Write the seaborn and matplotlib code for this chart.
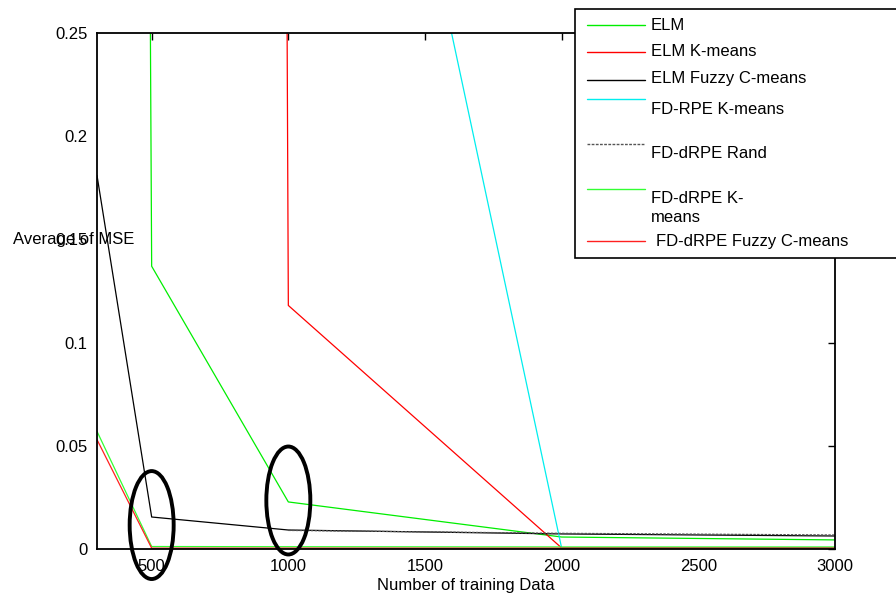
import numpy as np
import pandas as pd
import matplotlib
matplotlib.use("Agg")
import matplotlib.pyplot as plt
import seaborn as sns
from matplotlib.patches import Ellipse, Rectangle
from matplotlib.lines import Line2D

# data (first points of some series go far above the y-limit)
n_train = [300, 500, 1000, 2000, 3000]
elm = [5.0, 0.137, 0.0228, 0.0058, 0.0044]
elm_kmeans = [20.0, 15.0, 0.118, 0.0005, 0.0005]
elm_fcm = [0.181, 0.0155, 0.0092, 0.0073, 0.0063]
fd_rpe_kmeans = [2.5, 1.5, 0.62, 0.0004, 0.0004]
fd_drpe_rand = [np.nan, np.nan, 0.0090, 0.0076, 0.0068]
fd_drpe_kmeans = [0.057, 0.0012, 0.0011, 0.0010, 0.0010]
fd_drpe_fcm = [0.053, 0.0004, 0.0004, 0.0004, 0.0004]

methods = ["ELM", "ELM K-means", "ELM Fuzzy C-means", "FD-RPE K-means",
           "FD-dRPE Rand", "FD-dRPE K-means", "FD-dRPE Fuzzy C-means"]
series = [elm, elm_kmeans, elm_fcm, fd_rpe_kmeans, fd_drpe_rand, fd_drpe_kmeans, fd_drpe_fcm]
colors = ["#00ee00", "#ff0000", "#000000", "#00eeee", "#555555", "#33ff33", "#ff2020"]
styles = ["-", "-", "-", "-", (0, (2, 1)), "-", "-"]

sns.set_theme(style="white")
plt.rcParams['font.family'] = ['Liberation Sans', 'DejaVu Sans']
plt.rcParams['text.color'] = 'black'
plt.rcParams['axes.labelcolor'] = 'black'

FS = 12

fig = plt.figure(figsize=(8.96, 6.03), dpi=100)
ax = fig.add_axes([97 / 896, 54 / 603, 738 / 896, 516 / 603])

for vals, col, ls in zip(series, colors, styles):
    sns.lineplot(x=n_train, y=vals, color=col, linewidth=0.9, linestyle=ls, ax=ax)

ax.set_xlim(300, 3000)
ax.set_ylim(0, 0.25)
ax.set_xticks([500, 1000, 1500, 2000, 2500, 3000])
ax.set_yticks([0, 0.05, 0.1, 0.15, 0.2, 0.25])
ax.set_yticklabels(["0", "0.05", "0.1", "0.15", "0.2", "0.25"])
ax.tick_params(direction="in", top=True, right=True, length=5, width=1,
               labelsize=FS, colors="black", pad=7)
for sp in ax.spines.values():
    sp.set_color("black")
    sp.set_linewidth(1.3)

ax.set_xlabel("Number of training Data", fontsize=FS, labelpad=3)
ax.set_ylabel("Average of MSE", fontsize=FS, rotation=0, ha="center", va="center")
ax.yaxis.set_label_coords(-0.031, 0.599)

# highlighted regions
for cx, cy in [(500, 0.0116), (1000, 0.0235)]:
    ax.add_patch(Ellipse((cx, cy), 161, 0.0523, fill=False, edgecolor="black",
                         linewidth=2.8, clip_on=False, zorder=5))

# legend box drawn by hand to keep the original uneven layout
W, H = 896, 603
fig.add_artist(Rectangle((575 / W, 1 - 258 / H), 0.4, 249 / H, transform=fig.transFigure,
                         facecolor="white", edgecolor="black", linewidth=1.2, zorder=10,
                         clip_on=False))
leg_rows = [
    (25, 25, "ELM", 651),
    (52, 52, "ELM K-means", 651),
    (80, 79, "ELM Fuzzy C-means", 651),
    (99, 109, "FD-RPE K-means", 651),
    (144, 153, "FD-dRPE Rand", 651),
    (189, 208, "FD-dRPE K-\nmeans", 651),
    (241, 242, "FD-dRPE Fuzzy C-means", 656),
]
for (ly, ty, lab, tx), col, ls in zip(leg_rows, colors, styles):
    fig.add_artist(Line2D([587 / W, 645 / W], [1 - ly / H, 1 - ly / H], transform=fig.transFigure,
                          color=col, linewidth=1, linestyle=ls, zorder=11))
    fig.text(tx / W, 1 - ty / H, lab, fontsize=FS, ha="left", va="center",
             linespacing=1.3, zorder=11)

fig.savefig("out.png", dpi=100)
